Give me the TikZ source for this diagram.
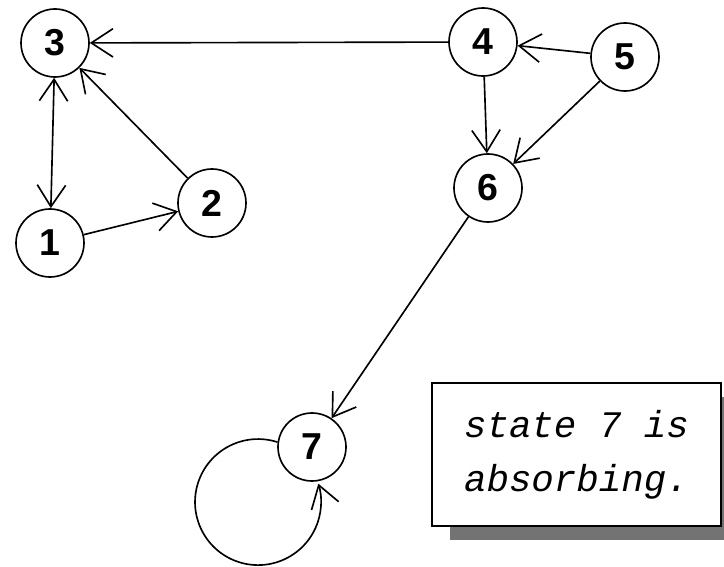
\documentclass[tikz,border=0pt]{standalone}
\usepackage{fontspec}
\setmainfont{Liberation Sans}
\newfontfamily\notefont{Liberation Mono}
\usetikzlibrary{arrows.meta, shapes, positioning, calc}
\tikzset{
	every edge/.style={
		draw, -{Straight Barb[length=0.65cm, width=0.85cm]}, line width=1.4pt
	}
}

\begin{document}
\begin{tikzpicture}[x=0.03cm, y=-0.03cm,
	state/.style={draw, line width=1.4pt, circle, minimum size=2.04cm, inner sep=0pt, font=\bfseries\fontsize{32}{32}\selectfont},
	note/.style={draw, line width=1.8pt, fill=white, minimum width=8.67cm, minimum height=4.29cm},
	noteshadow/.style={fill=black!55, draw=none, minimum width=8.67cm, minimum height=4.29cm}]
	\clip (0,0) rectangle (724,567);
	\node[state] (n3) at (55,43) {3};
	\node[state] (n4) at (483,42) {4};
	\node[state] (n5) at (625,57) {5};
	\node[state] (n6) at (488,188) {6};
	\node[state] (n2) at (212,203) {2};
	\node[state] (n1) at (50,243) {1};
	\node[state] (n7) at (312,447) {7};
	\draw (n4) edge (n3);
	\draw (n3) edge[{Straight Barb[length=0.65cm, width=0.85cm]}-{Straight Barb[length=0.65cm, width=0.85cm]}] (n1);
	\draw (n2) edge (n3);
	\draw (n1) edge (n2);
	\draw (n5) edge (n4);
	\draw (n4) edge (n6);
	\draw (n5) edge (n6);
	\draw (n6) edge (n7);
	% self loop of state 7
	\draw[-{Straight Barb[length=0.65cm, width=0.85cm]}, line width=1.4pt] (n7.172) arc[start angle=72, delta angle=305, radius=1.89cm];
	% note with its drop shadow
	\node[noteshadow] (shadow) at (594.5,468.5) {};
	\node[note] (box) at (576.5,454.5) {};
	\node[align=left, font=\notefont\itshape\fontsize{32}{46}\selectfont] (txt) at (box) {state 7 is\\absorbing.};
\end{tikzpicture}
\end{document}
